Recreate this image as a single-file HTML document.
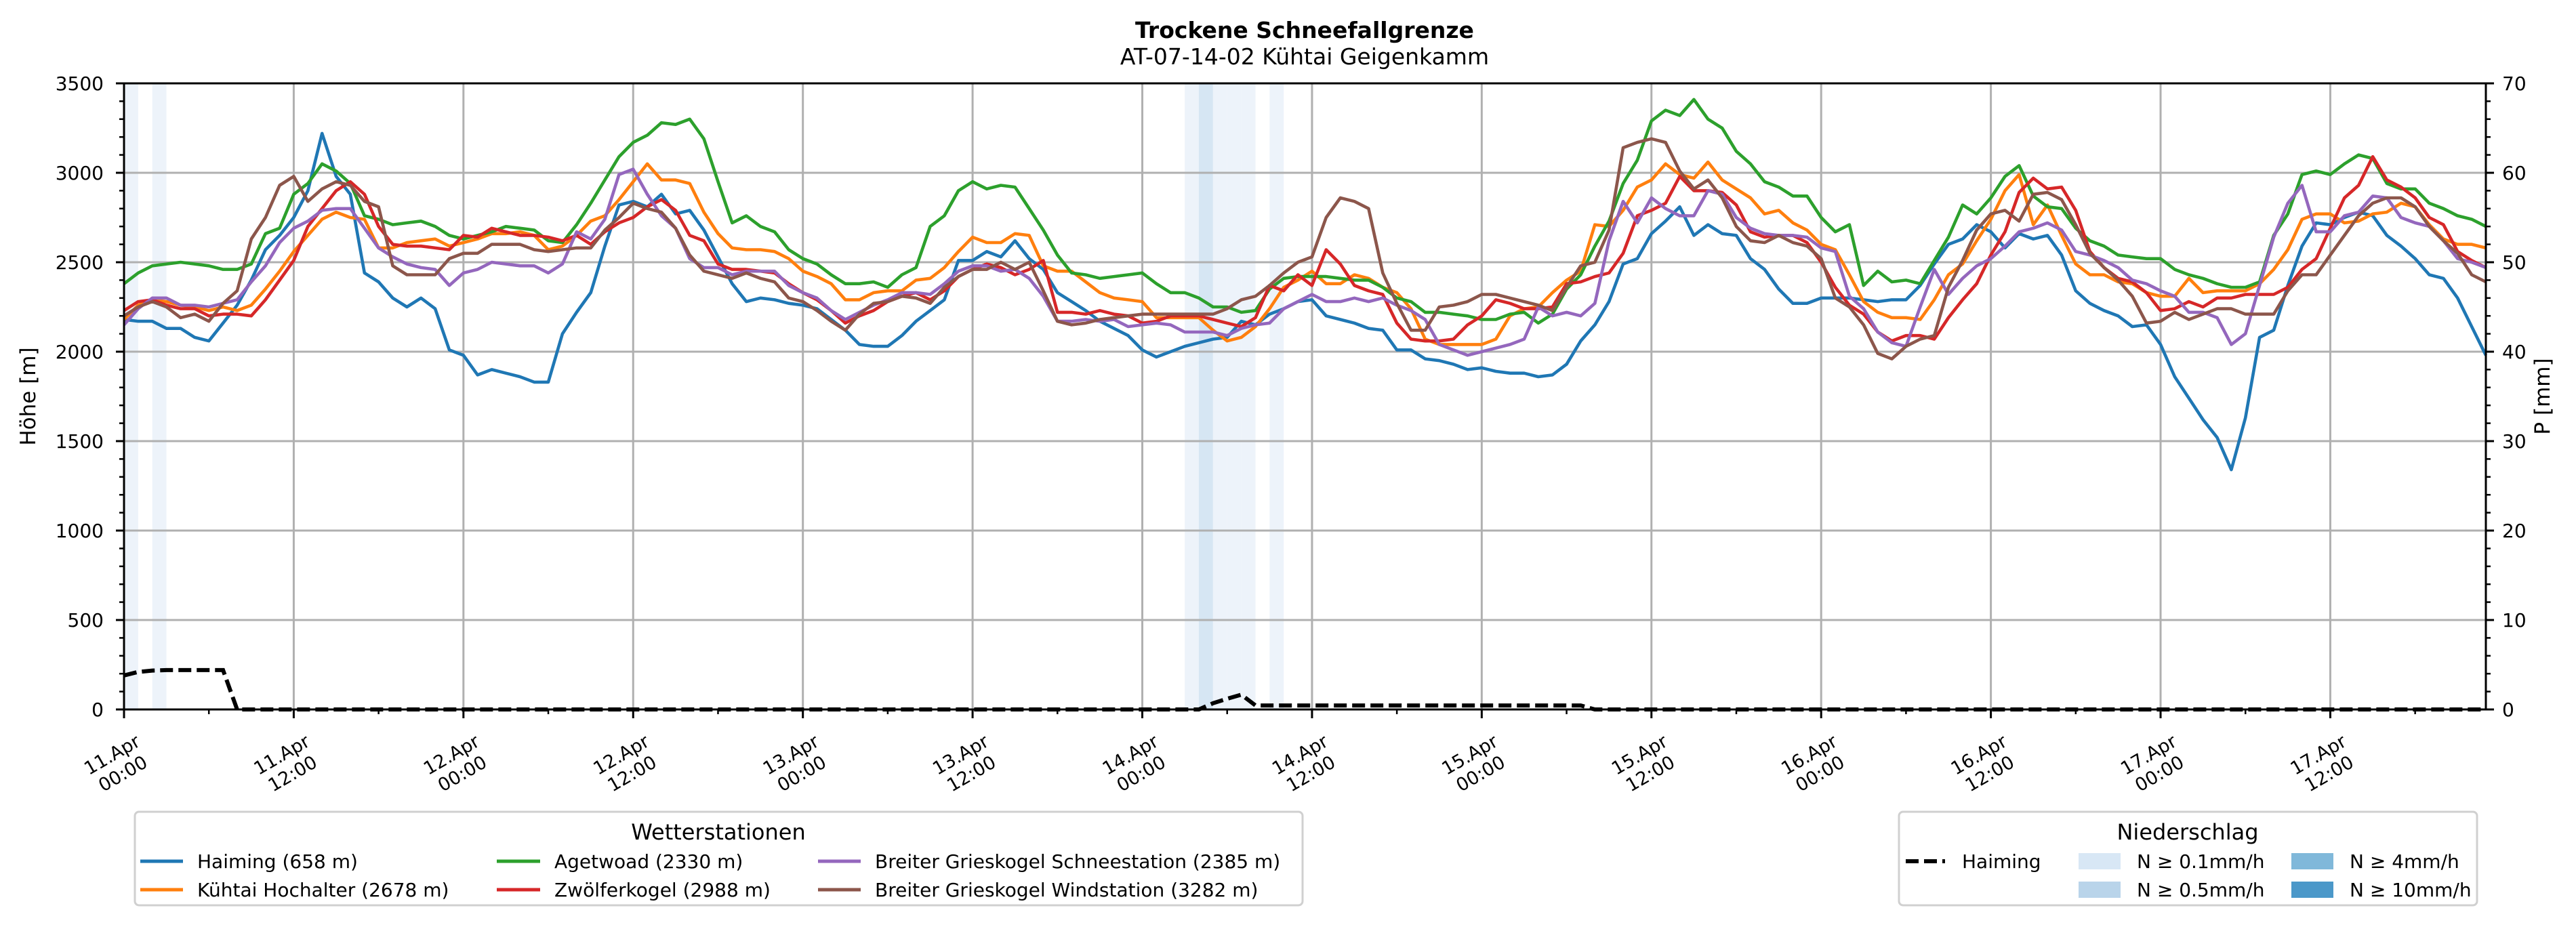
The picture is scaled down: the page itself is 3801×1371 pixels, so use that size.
<!DOCTYPE html>
<html><head><meta charset="utf-8"><style>
html,body{margin:0;padding:0;background:#fff;}
svg{display:block;font-family:"DejaVu Sans","Liberation Sans",sans-serif;}
</style></head><body>
<svg id="chart" width="3801" height="1371" viewBox="0 0 3801 1371" xmlns="http://www.w3.org/2000/svg">
<rect x="0" y="0" width="3801" height="1371" fill="#fff"/>
<text x="1925" y="56" text-anchor="middle" font-size="33" font-weight="bold">Trockene Schneefallgrenze</text>
<text x="1925" y="95" text-anchor="middle" font-size="33">AT-07-14-02 Kühtai Geigenkamm</text>
<g id="bands"></g><g id="grid"></g><g id="series"></g><g id="precip"></g><g id="axes"></g>
<text transform="translate(52,585) rotate(-90)" text-anchor="middle" font-size="31">Höhe [m]</text>
<text transform="translate(3762,585) rotate(-90)" text-anchor="middle" font-size="31">P [mm]</text>
<g>
<rect x="199" y="1198" width="1723" height="138" rx="6" fill="#fff" stroke="#d0d0d0" stroke-width="3"/>
<text x="1060" y="1239" text-anchor="middle" font-size="32">Wetterstationen</text>
<g font-size="28">
<line x1="207" y1="1271" x2="270" y2="1271" stroke="#1f77b4" stroke-width="5"/><text x="291" y="1281">Haiming (658 m)</text>
<line x1="207" y1="1313" x2="270" y2="1313" stroke="#ff7f0e" stroke-width="5"/><text x="291" y="1323">Kühtai Hochalter (2678 m)</text>
<line x1="733" y1="1271" x2="797" y2="1271" stroke="#2ca02c" stroke-width="5"/><text x="818" y="1281">Agetwoad (2330 m)</text>
<line x1="733" y1="1313" x2="797" y2="1313" stroke="#d62728" stroke-width="5"/><text x="818" y="1323">Zwölferkogel (2988 m)</text>
<line x1="1207" y1="1271" x2="1270" y2="1271" stroke="#9467bd" stroke-width="5"/><text x="1291" y="1281">Breiter Grieskogel Schneestation (2385 m)</text>
<line x1="1207" y1="1313" x2="1270" y2="1313" stroke="#8c564b" stroke-width="5"/><text x="1291" y="1323">Breiter Grieskogel Windstation (3282 m)</text>
</g></g>
<g>
<rect x="2802" y="1198" width="853" height="138" rx="6" fill="#fff" stroke="#d0d0d0" stroke-width="3"/>
<text x="3228" y="1239" text-anchor="middle" font-size="32">Niederschlag</text>
<g font-size="28">
<line x1="2812" y1="1271" x2="2870" y2="1271" stroke="#000" stroke-width="6" stroke-dasharray="19,8"/><text x="2895" y="1281">Haiming</text>
<rect x="3067" y="1259" width="62" height="24" fill="#d8e7f5"/><text x="3153" y="1281">N ≥ 0.1mm/h</text>
<rect x="3067" y="1301" width="62" height="24" fill="#b9d4ea"/><text x="3153" y="1323">N ≥ 0.5mm/h</text>
<rect x="3381" y="1259" width="62" height="24" fill="#80b8da"/><text x="3467" y="1281">N ≥ 4mm/h</text>
<rect x="3381" y="1301" width="62" height="24" fill="#4b98c9"/><text x="3467" y="1323">N ≥ 10mm/h</text>
</g></g>
</svg>
<script>
const haiming=[2180,2170,2170,2130,2130,2080,2060,2160,2260,2400,2570,2650,2750,2900,3220,2980,2880,2440,2390,2300,2250,2300,2240,2010,1980,1870,1900,1880,1860,
1830,1830,2100,2220,2330,2590,2820,2840,2810,2880,2770,2790,2680,2530,2380,2280,2300,2290,2270,2260,2240,2180,2120,2040,2030,2030,2090,2170,
2230,2290,2510,2510,2560,2530,2620,2520,2460,2330,2280,2230,2170,2130,2090,2010,1970,2000,2030,2050,2070,2080,2170,2150,2210,2240,2280,2290,2200,
2180,2160,2130,2120,2010,2010,1960,1950,1930,1900,1910,1890,1880,1880,1860,1870,1930,2060,2150,2280,2490,2520,2660,2730,2810,2650,2710,2660,
2650,2520,2460,2350,2270,2270,2300,2300,2300,2290,2280,2290,2290,2370,2490,2600,2630,2710,2670,2580,2660,2630,2650,2540,2340,2270,2230,2200,
2140,2150,2040,1860,1740,1620,1520,1340,1630,2080,2120,2370,2590,2720,2710,2750,2780,2760,2650,2590,2520,2430,2410,2300,2140,1980];
const kuehtai=[2180,2260,2290,2280,2260,2250,2230,2250,2230,2260,2350,2450,2560,2650,2740,2780,2750,2740,2580,2580,2610,2620,2630,2590,2610,2630,2660,2660,2670,
2650,2570,2590,2650,2730,2760,2850,2950,3050,2960,2960,2940,2780,2660,2580,2570,2570,2560,2520,2450,2420,2380,2290,2290,2330,2340,2340,2400,
2410,2470,2560,2640,2610,2610,2660,2650,2480,2450,2450,2390,2330,2300,2290,2280,2190,2190,2190,2190,2120,2060,2080,2140,2240,2360,2400,2450,2380,
2380,2430,2410,2360,2330,2240,2070,2040,2040,2040,2040,2070,2200,2240,2250,2330,2400,2450,2710,2700,2790,2920,2960,3050,2990,2970,3060,2960,
2910,2860,2770,2790,2720,2680,2600,2570,2430,2280,2220,2190,2190,2180,2290,2430,2490,2620,2740,2900,2990,2710,2820,2650,2490,2430,2430,2390,
2380,2330,2310,2310,2410,2330,2340,2340,2340,2380,2460,2570,2740,2770,2770,2720,2730,2770,2780,2830,2810,2710,2630,2600,2600,2580];
const agetwoad=[2380,2440,2480,2490,2500,2490,2480,2460,2460,2490,2660,2690,2880,2940,3050,3010,2940,2760,2740,2710,2720,2730,2700,2650,2630,2650,2670,2700,2690,
2680,2620,2610,2710,2830,2960,3090,3170,3210,3280,3270,3300,3190,2950,2720,2760,2700,2670,2570,2520,2490,2430,2380,2380,2390,2360,2430,2470,
2700,2760,2900,2950,2910,2930,2920,2800,2680,2540,2440,2430,2410,2420,2430,2440,2380,2330,2330,2300,2250,2250,2220,2230,2350,2410,2420,2420,2420,
2410,2400,2400,2360,2300,2280,2220,2220,2210,2200,2180,2180,2210,2220,2160,2210,2350,2430,2590,2730,2940,3070,3290,3350,3320,3410,3300,3250,
3120,3050,2950,2920,2870,2870,2750,2670,2710,2370,2450,2390,2400,2380,2510,2640,2820,2770,2860,2980,3040,2870,2810,2800,2690,2620,2590,2540,
2530,2520,2520,2460,2430,2410,2380,2360,2360,2390,2650,2770,2990,3010,2990,3050,3100,3080,2940,2910,2910,2830,2800,2760,2740,2700];
const zwoelferkogel=[2230,2280,2290,2260,2240,2240,2200,2210,2210,2200,2290,2400,2510,2700,2800,2900,2950,2880,2700,2600,2590,2590,2580,2570,2650,2640,2690,2670,2650,
2650,2640,2620,2650,2600,2670,2720,2750,2810,2850,2790,2650,2620,2490,2460,2460,2450,2440,2380,2330,2290,2230,2160,2200,2230,2280,2310,2330,
2290,2340,2420,2460,2490,2470,2430,2460,2510,2220,2220,2210,2230,2210,2200,2160,2170,2200,2200,2200,2180,2160,2140,2190,2370,2340,2430,2370,2570,
2490,2370,2340,2320,2160,2070,2060,2060,2070,2150,2200,2290,2270,2240,2240,2250,2380,2390,2420,2440,2550,2760,2790,2830,2980,2900,2900,2890,
2820,2670,2640,2650,2650,2610,2500,2360,2260,2210,2110,2060,2090,2090,2070,2190,2290,2380,2540,2670,2890,2970,2910,2920,2790,2560,2470,2410,
2390,2330,2230,2240,2280,2250,2300,2300,2320,2320,2320,2360,2460,2520,2690,2860,2930,3090,2960,2920,2860,2750,2710,2560,2510,2470];
const schneestation=[2150,2240,2300,2300,2260,2260,2250,2270,2290,2390,2480,2610,2690,2730,2790,2800,2800,2690,2580,2530,2490,2470,2460,2370,2440,2460,2500,2490,2480,
2480,2440,2490,2670,2630,2740,2990,3020,2880,2760,2690,2520,2470,2470,2430,2450,2450,2450,2370,2330,2300,2230,2180,2220,2260,2290,2330,2330,
2320,2380,2450,2480,2480,2450,2460,2410,2310,2170,2170,2180,2170,2180,2140,2150,2160,2150,2110,2110,2110,2090,2130,2150,2160,2240,2280,2320,2280,
2280,2300,2280,2300,2260,2230,2180,2040,2010,1980,2000,2020,2040,2070,2250,2200,2220,2200,2270,2620,2840,2720,2860,2800,2760,2760,2900,2880,
2750,2690,2660,2650,2650,2640,2580,2560,2310,2240,2110,2050,2030,2250,2460,2320,2410,2480,2520,2590,2670,2690,2720,2680,2560,2540,2510,2470,
2400,2380,2340,2310,2220,2220,2190,2040,2100,2370,2640,2830,2930,2670,2670,2760,2780,2870,2860,2750,2720,2700,2620,2520,2500,2470];
const windstation=[2200,2250,2280,2250,2190,2210,2170,2270,2340,2630,2750,2930,2980,2840,2910,2950,2930,2840,2810,2480,2430,2430,2430,2520,2550,2550,2600,2600,2600,
2570,2560,2570,2580,2580,2680,2750,2830,2800,2780,2690,2540,2450,2430,2410,2440,2410,2390,2300,2280,2230,2170,2120,2210,2270,2280,2310,2300,
2270,2360,2420,2460,2460,2500,2460,2500,2340,2170,2150,2160,2180,2190,2200,2210,2210,2210,2210,2210,2210,2240,2290,2310,2370,2440,2500,2530,2750,
2860,2840,2800,2440,2270,2120,2120,2250,2260,2280,2320,2320,2300,2280,2260,2230,2360,2480,2500,2680,3140,3170,3190,3170,3010,2910,2960,2860,
2700,2620,2610,2650,2610,2590,2520,2300,2250,2150,1990,1960,2030,2070,2090,2360,2510,2680,2770,2790,2730,2880,2890,2850,2710,2550,2470,2400,
2310,2160,2170,2220,2180,2210,2240,2240,2210,2210,2210,2340,2430,2430,2540,2650,2760,2830,2860,2860,2810,2700,2620,2550,2430,2390];
// Haiming precipitation (mm), hourly; non-zero entries listed as [hour, value]
const precipHaimingNonZero=[[0,3.8],[1,4.2],[2,4.35],[3,4.4],[4,4.4],[5,4.4],[6,4.4],[7,4.4],[77,0.7],[78,1.2],[79,1.65],[80,0.45],[81,0.45],[82,0.45],[83,0.45],[84,0.45],[85,0.45],[86,0.45],[87,0.45],[88,0.45],[89,0.45],[90,0.45],[91,0.45],[92,0.45],[93,0.45],[94,0.45],[95,0.45],[96,0.45],[97,0.45],[98,0.45],[99,0.45],[100,0.45],[101,0.45],[102,0.45],[103,0.45]];
// precipitation class bands [hour, class] (1: >=0.1mm/h, 2: >=0.5mm/h)
const precipBands=[[0,1],[2,1],[75,1],[76,2],[77,1],[78,1],[79,1],[81,1]];
const xTickLabels=["11.Apr|00:00","11.Apr|12:00","12.Apr|00:00","12.Apr|12:00","13.Apr|00:00","13.Apr|12:00","14.Apr|00:00","14.Apr|12:00","15.Apr|00:00","15.Apr|12:00","16.Apr|00:00","16.Apr|12:00","17.Apr|00:00","17.Apr|12:00"];
const yTicks=[0,500,1000,1500,2000,2500,3000,3500];
const y2Ticks=[0,10,20,30,40,50,60,70];

const NS="http://www.w3.org/2000/svg";
const L=183,R=3668,T=123,B=1047,HMAX=167,YMAX=3500,PMAX=70;
const xs=h=>L+(R-L)*h/HMAX;
const ys=v=>B-(B-T)*v/YMAX;
const ps=v=>B-(B-T)*v/PMAX;
function mk(tag,attrs,parent){const e=document.createElementNS(NS,tag);for(const k in attrs)e.setAttribute(k,attrs[k]);parent.appendChild(e);return e;}
const gB=document.getElementById('bands'),gG=document.getElementById('grid'),gS=document.getElementById('series'),gP=document.getElementById('precip'),gA=document.getElementById('axes');

precipBands.forEach(([h,c])=>{
  const r=mk('rect',{x:xs(h),y:T,width:xs(h+1)-xs(h),height:B-T,fill:c===2?'#d6e6f3':'#edf3fa'},gB);
  
  
});
yTicks.forEach(v=>{ if(v>0&&v<YMAX){const l=mk('line',{x1:L,x2:R,y1:ys(v),y2:ys(v),stroke:'#b0b0b0','stroke-width':3},gG);
  
  }});
for(let i=1;i<xTickLabels.length;i++){const x=xs(i*12);const l=mk('line',{x1:x,x2:x,y1:T,y2:B,stroke:'#b0b0b0','stroke-width':3},gG);
  
  }

const series=[[haiming,'#1f77b4','haiming-line'],[kuehtai,'#ff7f0e','kuehtai-line'],[agetwoad,'#2ca02c','agetwoad-line'],[zwoelferkogel,'#d62728','zwoelferkogel-line'],[schneestation,'#9467bd','schneestation-line'],[windstation,'#8c564b','windstation-line']];
series.forEach(([d,c,n])=>{
  const pts=d.map((v,i)=>xs(i).toFixed(1)+','+ys(v).toFixed(1)).join(' ');
  const p=mk('polyline',{points:pts,fill:'none',stroke:c,'stroke-width':4.6,'stroke-linejoin':'round'},gS);
  
  
});
const pv=new Array(HMAX+1).fill(0);
precipHaimingNonZero.forEach(([h,v])=>{pv[h]=v;});
const ppl=mk('polyline',{points:pv.map((v,i)=>xs(i).toFixed(1)+','+ps(v).toFixed(1)).join(' '),fill:'none',stroke:'#000','stroke-width':6,'stroke-dasharray':'19,8'},gP);



const fr=mk('rect',{x:L,y:T,width:R-L,height:B-T,fill:'none',stroke:'#000','stroke-width':3},gA);


for(let v=0;v<=YMAX;v+=100){const major=v%500===0;mk('line',{x1:L-(major?12:7),x2:L,y1:ys(v),y2:ys(v),stroke:'#000','stroke-width':major?3:2.5},gA);}
yTicks.forEach(v=>{const t=mk('text',{x:L-30,y:ys(v)+10,'text-anchor':'end','font-size':28},gA);t.textContent=v;
  
  });
for(let v=0;v<=PMAX;v+=2){const major=v%10===0;mk('line',{x1:R,x2:R+(major?12:7),y1:ps(v),y2:ps(v),stroke:'#000','stroke-width':major?3:2.5},gA);}
y2Ticks.forEach(v=>{const t=mk('text',{x:R+24,y:ps(v)+10,'text-anchor':'start','font-size':28},gA);t.textContent=v;
  
  });
for(let h=0;h<=HMAX;h+=6){const major=h%12===0;mk('line',{x1:xs(h),x2:xs(h),y1:B,y2:B+(major?13:7),stroke:'#000','stroke-width':major?3:2.5},gA);}
xTickLabels.forEach((s,i)=>{
  const [a,b]=s.split('|');const x=xs(i*12);
  const g=mk('g',{transform:`translate(${x+25},${1100}) rotate(-30)`},gA);
  
  
  const t1=mk('text',{x:-44,y:0,'text-anchor':'middle','font-size':27},g);t1.textContent=a;
  const t2=mk('text',{x:-44,y:32,'text-anchor':'middle','font-size':27},g);t2.textContent=b;
});
</script>
</body></html>
